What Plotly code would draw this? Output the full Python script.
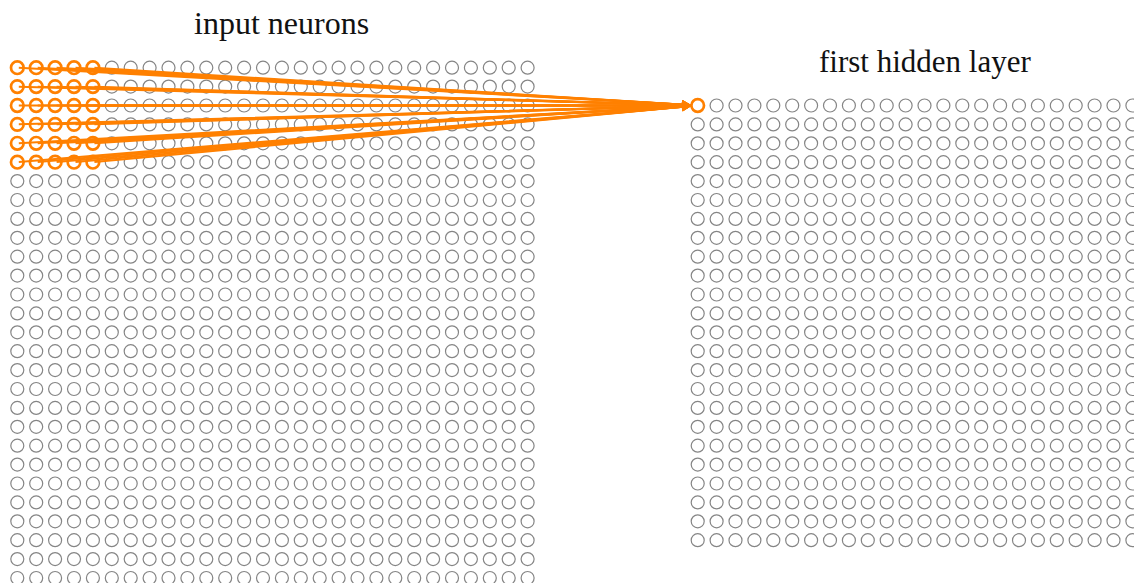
import plotly.graph_objects as go

# ---- data ----
input_size = [28, 28]            # columns, rows of input neurons
hidden_size = [24, 24]           # columns, rows of first hidden layer
field_cols = [0, 1, 2, 3, 4]     # local receptive field columns (input)
field_rows = [0, 1, 2, 3, 4, 5]  # local receptive field rows (input)
target_neuron = [0, 0]           # hidden neuron (col, row) fed by the field
titles = ["input neurons", "first hidden layer"]

# ---- layout constants ----
W, H = 1134, 583
SP = 18.9                 # px per neuron spacing
X0_PX, Y0_PX = 17.3, 67.7 # px position of input neuron (0,0)
HID_OFF = (36, 2)         # hidden grid offset in neuron units
GRAY = "#858585"
ORANGE = "#ff8000"

xr = [-X0_PX / SP, (W - X0_PX) / SP]
yr = [(H - Y0_PX) / SP, -Y0_PX / SP]

fig = go.Figure()

# input layer
gx, gy, ox, oy = [], [], [], []
for r in range(input_size[1]):
    for c in range(input_size[0]):
        if c in field_cols and r in field_rows:
            ox.append(c); oy.append(r)
        else:
            gx.append(c); gy.append(r)
# hidden layer
for r in range(hidden_size[1]):
    for c in range(hidden_size[0]):
        if [c, r] == target_neuron:
            ox.append(c + HID_OFF[0]); oy.append(r + HID_OFF[1])
        else:
            gx.append(c + HID_OFF[0]); gy.append(r + HID_OFF[1])

fig.add_trace(go.Scatter(x=gx, y=gy, mode="markers", hoverinfo="skip",
                         marker=dict(symbol="circle-open", size=13, color=GRAY,
                                     line=dict(width=1.2, color=GRAY))))

tx = target_neuron[0] + HID_OFF[0]
ty = target_neuron[1] + HID_OFF[1]
annotations = []
for r in field_rows:
    for c in field_cols:
        annotations.append(dict(x=tx, y=ty, ax=c, ay=r, xref="x", yref="y",
                                axref="x", ayref="y", showarrow=True, text="",
                                arrowhead=2, arrowsize=0.9, arrowwidth=2.0,
                                arrowcolor=ORANGE, standoff=6.5))

fig.add_trace(go.Scatter(x=ox, y=oy, mode="markers", hoverinfo="skip",
                         marker=dict(symbol="circle-open", size=12.6, color=ORANGE,
                                     line=dict(width=2.7, color=ORANGE))))

annotations.append(dict(x=input_size[0] / 2, y=-2.35, xref="x", yref="y",
                        text=titles[0], showarrow=False,
                        font=dict(family="Liberation Serif", size=32, color="#111"),
                        yanchor="middle"))
annotations.append(dict(x=HID_OFF[0] + hidden_size[0] / 2, y=HID_OFF[1] - 2.35,
                        xref="x", yref="y", text=titles[1], showarrow=False,
                        font=dict(family="Liberation Serif", size=31, color="#111"),
                        yanchor="middle"))

fig.update_layout(width=W, height=H, margin=dict(l=0, r=0, t=0, b=0),
                  plot_bgcolor="white", paper_bgcolor="white", showlegend=False,
                  annotations=annotations)
fig.update_xaxes(range=xr, visible=False, showgrid=False, zeroline=False)
fig.update_yaxes(range=yr, visible=False, showgrid=False, zeroline=False)

fig.write_html("out.html", config={"displayModeBar": False},
               post_script="document.body.style.margin='0';document.body.style.overflow='hidden';")
